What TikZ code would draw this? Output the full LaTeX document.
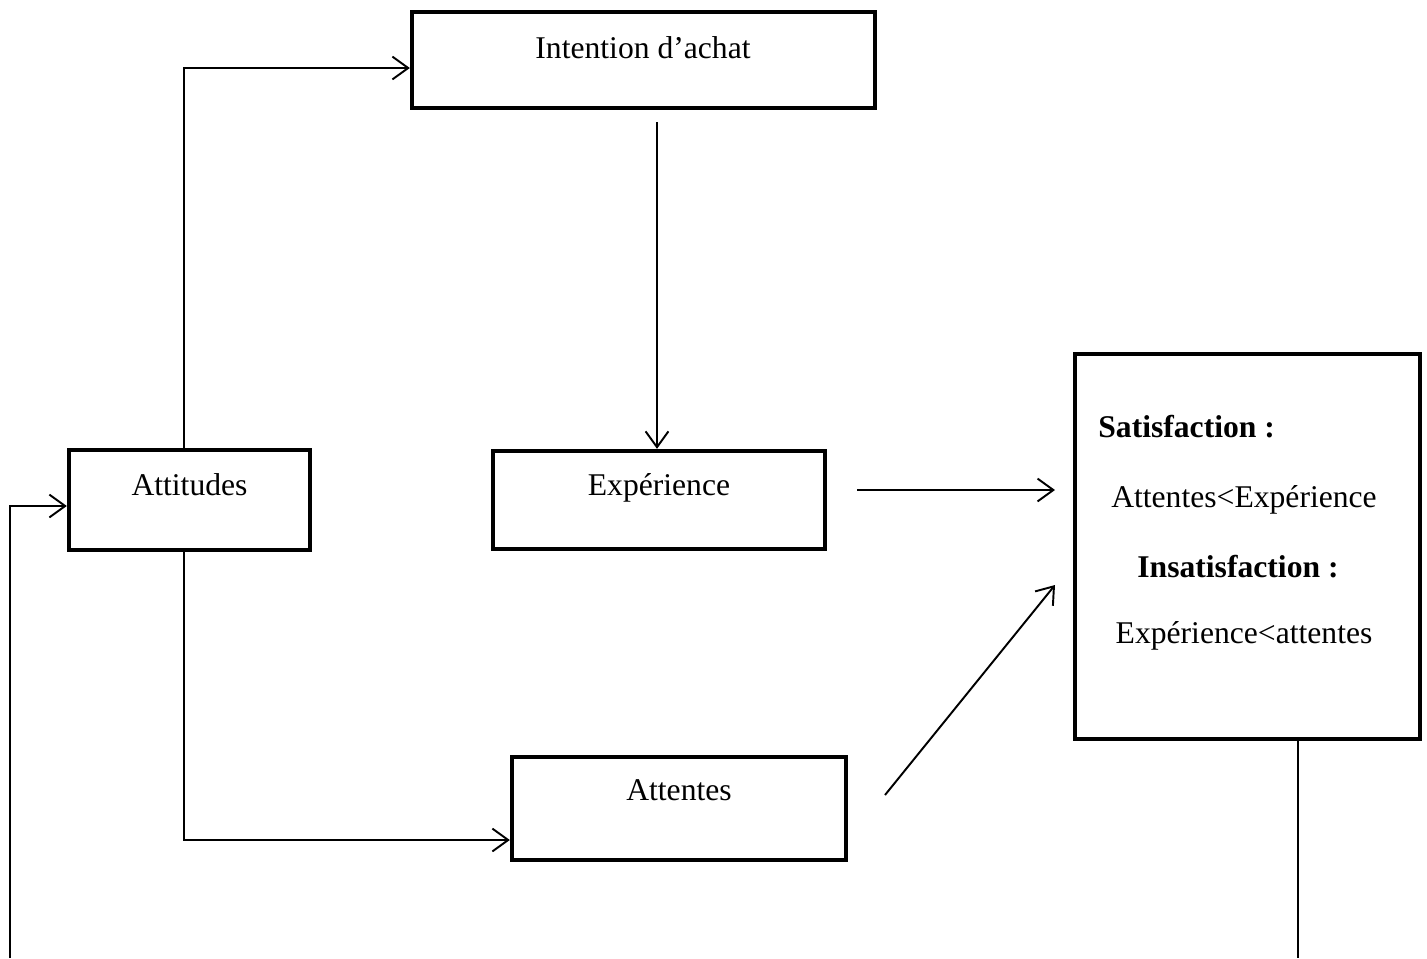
\documentclass[tikz,border=0pt]{standalone}
\usepackage{fontspec}
\setmainfont{Liberation Serif}
\usetikzlibrary{arrows.meta}
\begin{document}
\begin{tikzpicture}[x=0.02cm, y=-0.02cm,
  box/.style={draw, line width=2.5pt, rectangle, inner sep=0pt},
  lbl/.style={anchor=base, inner sep=0pt, font=\fontsize{18}{22}\selectfont},
  conn/.style={line width=1.1pt},
  arr/.style={conn, -{Straight Barb[length=9pt, width=13pt, line width=1.1pt]}}]
\useasboundingbox (0,0) rectangle (1427,958);

% boxes
\node[box, minimum width=9.26cm, minimum height=1.92cm] (int) at (643.5,60) {};
\node[box, minimum width=4.82cm, minimum height=2cm] (att) at (189.5,500) {};
\node[box, minimum width=6.64cm, minimum height=1.96cm] (exp) at (659,500) {};
\node[box, minimum width=6.68cm, minimum height=2.06cm] (atn) at (679,808.5) {};
\node[box, minimum width=6.9cm, minimum height=7.7cm] (sat) at (1247.5,546.5) {};

% box labels
\node[lbl] (tint) at (643,58) {Intention d’achat};
\node[lbl] (tatt) at (189.5,495) {Attitudes};
\node[lbl] (texp) at (659,495) {Expérience};
\node[lbl] (tatn) at (679,800) {Attentes};
\node[lbl, anchor=base west] (ts1) at (1098,437) {\bfseries Satisfaction :};
\node[lbl] (ts2) at (1244,507) {Attentes<Expérience};
\node[lbl] (ts3) at (1238,577) {\bfseries Insatisfaction :};
\node[lbl] (ts4) at (1244,643) {Expérience<attentes};

% routing points
\coordinate (up) at (184,68);
\coordinate (down) at (184,840);
\coordinate (mid) at (657,122);
\coordinate (e1) at (857,490);
\coordinate (e2) at (1055,490);
\coordinate (d1) at (885,795);
\coordinate (d2) at (1055,585);
\coordinate (sb) at (1298,958);
\coordinate (lb) at (10,958);
\coordinate (lt) at (10,506);

% connectors
\draw[arr] (att.north -| up) |- (int.west |- up);
\draw[arr] (att.south -| down) |- (atn.west |- down);
\draw[arr] (mid) -- (exp.north -| mid);
\draw[arr] (e1) -- (e2);
\draw[arr] (d1) -- (d2);
\draw[conn] (sat.south -| sb) -- (sb);
\draw[arr] (lb) |- (att.west |- lt);
\end{tikzpicture}
\end{document}
